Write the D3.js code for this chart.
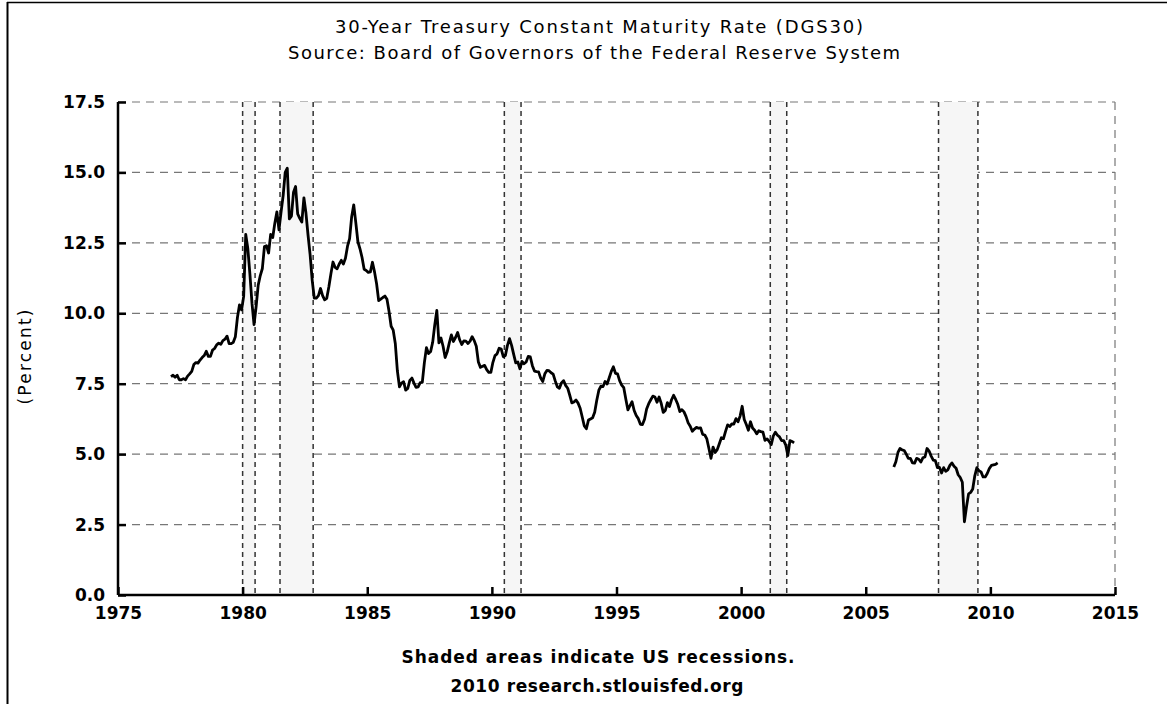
<!DOCTYPE html>
<html>
<head>
<meta charset="utf-8">
<script src="https://cdn.jsdelivr.net/npm/d3@7"></script>
<style>
  body { margin: 0; background: #fff; }
  text { font-family: "DejaVu Sans", Verdana, sans-serif; fill: #000; }
</style>
</head>
<body>
<script>
// monthly readings, first block starts Feb 1977, ends Feb 2002
var rateStart1 = [1977, 1];
var rate1 = [
  7.75, 7.80, 7.73, 7.80, 7.64, 7.64, 7.68, 7.64, 7.77, 7.85, 7.94,
  8.18, 8.25, 8.23, 8.34, 8.43, 8.50, 8.65, 8.47, 8.47, 8.69, 8.75, 8.88,
  8.94, 8.90, 9.03, 9.08, 9.19, 8.92, 8.92, 8.97, 9.17, 9.85, 10.30, 10.12,
  10.60, 12.80, 12.30, 11.40, 10.36, 9.60, 10.24, 11.00, 11.34, 11.59, 12.37, 12.40,
  12.14, 12.80, 12.69, 13.20, 13.60, 12.96, 13.59, 14.17, 15.00, 15.15, 13.35, 13.45,
  14.30, 14.50, 13.53, 13.37, 13.24, 14.10, 13.55, 12.77, 12.07, 11.17, 10.54, 10.54,
  10.63, 10.88, 10.63, 10.48, 10.53, 10.93, 11.40, 11.82, 11.63, 11.58, 11.75, 11.88,
  11.75, 11.95, 12.38, 12.65, 13.43, 13.85, 13.21, 12.54, 12.29, 11.98, 11.56, 11.52,
  11.45, 11.47, 11.81, 11.47, 11.05, 10.45, 10.50, 10.56, 10.61, 10.50, 10.06, 9.54,
  9.40, 8.93, 7.96, 7.39, 7.52, 7.57, 7.27, 7.33, 7.62, 7.70, 7.52, 7.37,
  7.39, 7.54, 7.55, 8.25, 8.78, 8.57, 8.64, 8.97, 9.59, 10.10, 8.95, 9.12,
  8.83, 8.43, 8.63, 8.95, 9.23, 9.00, 9.14, 9.32, 9.06, 8.89, 9.02, 9.01,
  8.93, 9.01, 9.17, 9.03, 8.83, 8.27, 8.08, 8.12, 8.15, 8.00, 7.90, 7.90,
  8.26, 8.50, 8.56, 8.76, 8.73, 8.46, 8.50, 8.86, 9.10, 8.86, 8.54, 8.24,
  8.27, 8.03, 8.29, 8.21, 8.27, 8.47, 8.45, 8.14, 7.95, 7.93, 7.92, 7.70,
  7.58, 7.85, 7.97, 7.96, 7.89, 7.84, 7.60, 7.39, 7.34, 7.53, 7.61, 7.44,
  7.34, 7.09, 6.82, 6.85, 6.92, 6.81, 6.63, 6.32, 6.00, 5.90, 6.21, 6.25,
  6.29, 6.49, 6.91, 7.27, 7.41, 7.40, 7.58, 7.49, 7.71, 7.94, 8.10, 7.87,
  7.85, 7.61, 7.45, 7.36, 6.95, 6.57, 6.72, 6.86, 6.55, 6.37, 6.26, 6.06,
  6.05, 6.24, 6.60, 6.79, 6.93, 7.06, 7.03, 6.84, 7.03, 6.81, 6.48, 6.55,
  6.83, 6.69, 6.93, 7.09, 6.94, 6.77, 6.51, 6.58, 6.50, 6.33, 6.11, 5.99,
  5.81, 5.89, 5.95, 5.92, 5.93, 5.70, 5.68, 5.54, 5.20, 4.85, 5.25, 5.06,
  5.16, 5.37, 5.58, 5.55, 5.81, 6.04, 5.98, 6.07, 6.07, 6.26, 6.15, 6.35,
  6.70, 6.23, 6.05, 5.85, 6.15, 5.93, 5.85, 5.72, 5.83, 5.80, 5.78, 5.49,
  5.54, 5.45, 5.34, 5.65, 5.78, 5.67, 5.61, 5.48, 5.48, 5.32, 4.95, 5.48,
  5.45, 5.40
];

// second block after the series was resumed, Feb 2006 to Apr 2010
var rateStart2 = [2006, 1];
var rate2 = [
  4.54, 4.73, 5.06, 5.20, 5.15, 5.13, 5.00, 4.85, 4.85, 4.69, 4.68,
  4.85, 4.82, 4.72, 4.87, 4.90, 5.20, 5.11, 4.93, 4.79, 4.77, 4.52, 4.53,
  4.33, 4.52, 4.39, 4.44, 4.60, 4.69, 4.57, 4.50, 4.27, 4.17, 4.00, 2.60,
  3.13, 3.59, 3.64, 3.76, 4.23, 4.52, 4.41, 4.37, 4.19, 4.19, 4.31, 4.49,
  4.60, 4.62, 4.64, 4.69
];

// NBER recessions as decimal years
var recessionStart = [1980.0, 1981.5, 1990.5, 2001.17, 2007.92];
var recessionEnd   = [1980.5, 1982.83, 1991.17, 2001.83, 2009.5];

var xTicks = [1975, 1980, 1985, 1990, 1995, 2000, 2005, 2010, 2015];
var yTicks = [0, 2.5, 5, 7.5, 10, 12.5, 15, 17.5];

var width = 1167, height = 704;
var margin = {left: 118, right: 52, top: 102, bottom: 109};

var svg = d3.select("body").append("svg").attr("width", width).attr("height", height);

// outer frame (left + top only, as on the scan)
svg.append("line").attr("x1", 7.5).attr("x2", 7.5).attr("y1", 2).attr("y2", height)
    .attr("stroke", "#000").attr("stroke-width", 2);
svg.append("line").attr("x1", 7).attr("x2", width).attr("y1", 2.5).attr("y2", 2.5)
    .attr("stroke", "#000").attr("stroke-width", 1.5);

var x = d3.scaleLinear().domain([1975, 2015]).range([margin.left, width - margin.right]);
var y = d3.scaleLinear().domain([0, 17.5]).range([height - margin.bottom, margin.top]);

// grid lines
svg.selectAll(".grid").data(yTicks.filter(function(d) {return d > 0})).enter().append("line")
    .attr("class", "grid")
    .attr("x1", x(1975)).attr("x2", x(2015))
    .attr("y1", function(d) {return y(d)}).attr("y2", function(d) {return y(d)})
    .attr("stroke", "#777").attr("stroke-width", 1.2).attr("stroke-dasharray", "8,6");

// right edge of the plot
svg.append("line").attr("x1", x(2015)).attr("x2", x(2015)).attr("y1", y(17.5)).attr("y2", y(0))
    .attr("stroke", "#777").attr("stroke-width", 1.2).attr("stroke-dasharray", "8,6");

// recession bars
var bars = svg.selectAll(".rec").data(recessionStart).enter().append("g").attr("class", "rec");
bars.append("rect")
    .attr("x", function(d) {return x(d)})
    .attr("width", function(d, i) {return x(recessionEnd[i]) - x(d)})
    .attr("y", y(17.5)).attr("height", y(0) - y(17.5))
    .attr("fill", "#f6f6f6");
bars.append("line")
    .attr("x1", function(d) {return x(d)}).attr("x2", function(d) {return x(d)})
    .attr("y1", y(17.5)).attr("y2", y(0))
    .attr("stroke", "#333").attr("stroke-width", 1.5).attr("stroke-dasharray", "5,4");
bars.append("line")
    .attr("x1", function(d, i) {return x(recessionEnd[i])}).attr("x2", function(d, i) {return x(recessionEnd[i])})
    .attr("y1", y(17.5)).attr("y2", y(0))
    .attr("stroke", "#333").attr("stroke-width", 1.5).attr("stroke-dasharray", "5,4");

// axes
var xAxis = d3.axisBottom(x).tickValues(xTicks).tickFormat(d3.format("d")).tickSize(-8).tickPadding(12);
var yAxis = d3.axisLeft(y).tickValues(yTicks).tickFormat(d3.format(".1f")).tickSize(-8).tickPadding(13);

var gx = svg.append("g").attr("transform", "translate(0," + y(0) + ")").call(xAxis);
var gy = svg.append("g").attr("transform", "translate(" + x(1975) + ",0)").call(yAxis);
[gx, gy].forEach(function(g) {
    g.select(".domain").attr("stroke", "#000").attr("stroke-width", 2.5);
    g.selectAll(".tick line").attr("stroke", "#000").attr("stroke-width", 2.5);
    g.selectAll(".tick text").attr("font-size", 17).attr("font-weight", "bold")
        .attr("font-family", "DejaVu Sans").attr("fill", "#000");
});
gx.select(".domain").attr("d", "M" + x(1975) + ",0H" + x(2015));
gy.select(".domain").attr("d", "M0," + y(17.5) + "V" + y(0));

// series
function toPoints(start, values) {
    return values.map(function(v, i) {
        return {t: start[0] + (start[1] + i) / 12 + 1 / 24, v: v};
    });
}
var line = d3.line().x(function(d) {return x(d.t)}).y(function(d) {return y(d.v)});
[toPoints(rateStart1, rate1), toPoints(rateStart2, rate2)].forEach(function(pts) {
    svg.append("path").datum(pts).attr("d", line)
        .attr("fill", "none").attr("stroke", "#000").attr("stroke-width", 2.8)
        .attr("stroke-linejoin", "round");
});

// texts, widths
function label(txt, px, py, size, len, bold) {
    return svg.append("text").attr("x", px).attr("y", py).attr("text-anchor", "middle")
        .attr("font-size", size).attr("font-weight", bold ? "bold" : "normal")
        .attr("textLength", len).attr("lengthAdjust", "spacing").text(txt);
}
label("30-Year Treasury Constant Maturity Rate (DGS30)", 599, 33, 18, 528, false);
label("Source: Board of Governors of the Federal Reserve System", 594, 59, 18, 612, false);
label("Shaded areas indicate US recessions.", 598, 663, 17, 393, true);
label("2010 research.stlouisfed.org", 597, 692, 17, 293, true);
label("(Percent)", 0, 0, 17, 95, false).attr("transform", "translate(31,357) rotate(-90)");
</script>
</body>
</html>
